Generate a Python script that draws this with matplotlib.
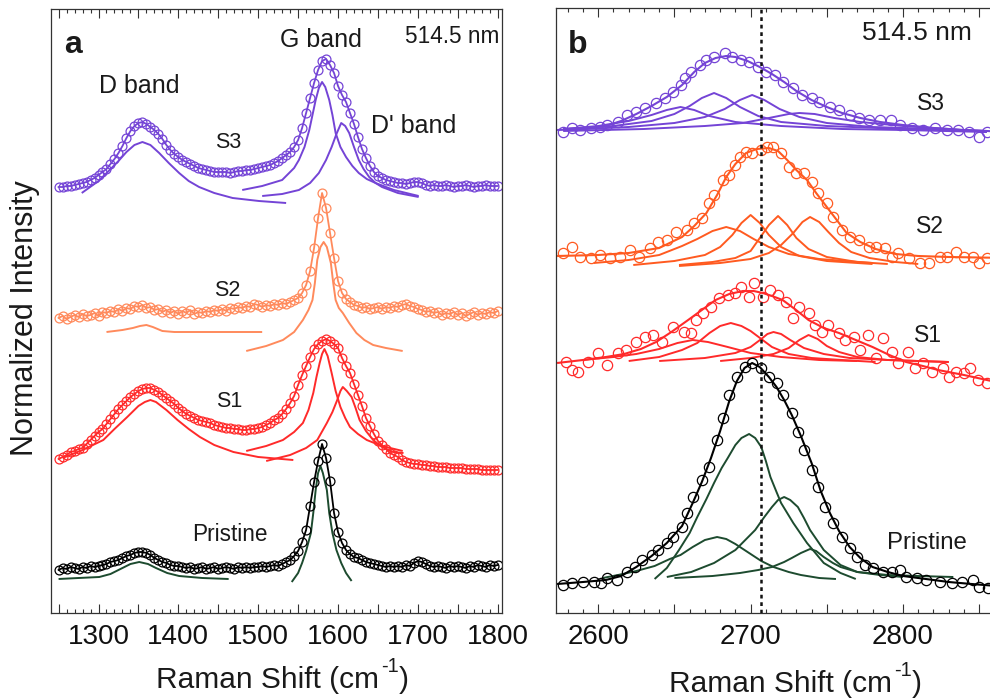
import numpy as np
import matplotlib
matplotlib.use('Agg')
import matplotlib.pyplot as plt
from matplotlib.ticker import MultipleLocator, FuncFormatter

plt.rcParams['font.family'] = ['Liberation Sans', 'DejaVu Sans']
plt.rcParams['mathtext.default'] = 'regular'

# ---------------- DATA: panel a (G/D region) ----------------
# Raman shift grid (cm^-1) for the measured points, 1250..1800 step 5
shift_a = list(range(1250, 1801, 5))

# normalized intensity + vertical offset (arbitrary units)
s3_a = [426, 426, 427, 427, 428, 429, 430, 431, 433, 435,
        438, 441, 444, 449, 454, 460, 467, 475, 482, 487,
        490, 491, 489, 486, 483, 479, 474, 468, 463, 459,
        456, 453, 451, 449, 447, 445, 444, 443, 442, 441,
        441, 441, 441, 440, 441, 442, 442, 443, 443, 444,
        445, 446, 447, 448, 450, 452, 455, 458, 461, 466,
        473, 485, 500, 515, 530, 543, 552, 554, 548, 540,
        527, 518, 511, 500, 489, 476, 464, 455, 447, 441,
        437, 435, 433, 432, 431, 430, 430, 429, 430, 431,
        431, 430, 428, 427, 428, 427, 427, 428, 427, 426,
        427, 427, 428, 427, 426, 427, 427, 428, 427, 427,
        427]
s2_a = [295, 297, 294, 296, 298, 296, 299, 297, 298, 300,
        297, 301, 300, 302, 301, 304, 302, 305, 304, 307,
        306, 308, 305, 306, 303, 304, 301, 303, 300, 302,
        299, 302, 300, 303, 299, 301, 300, 302, 301, 303,
        302, 304, 302, 305, 304, 306, 305, 307, 306, 309,
        308, 306, 308, 307, 309, 308, 310, 309, 311, 313,
        315, 320, 328, 342, 365, 395, 420, 405, 380, 355,
        332, 320, 314, 311, 308, 307, 305, 306, 304, 305,
        306, 304, 306, 305, 307, 306, 308, 309, 307, 306,
        304, 303, 301, 302, 300, 301, 298, 300, 299, 301,
        298, 300, 297, 299, 301, 298, 300, 299, 301, 300,
        302]
s1_a = [154, 156, 158, 161, 162, 164, 165, 169, 173, 177,
        181, 184, 189, 194, 199, 204, 208, 212, 216, 219,
        222, 224, 225, 225, 223, 221, 218, 215, 212, 209,
        205, 202, 199, 197, 195, 193, 192, 191, 190, 188,
        187, 186, 185, 185, 184, 184, 183, 183, 184, 184,
        185, 186, 188, 190, 193, 195, 199, 204, 210, 217,
        228, 238, 247, 256, 264, 269, 272, 274, 272, 269,
        265, 255, 247, 240, 229, 218, 207, 195, 187, 179,
        172, 168, 164, 160, 158, 156, 153, 151, 150, 149,
        149, 148, 148, 147, 147, 146, 146, 146, 145, 145,
        145, 145, 144, 144, 144, 144, 143, 143, 143, 143,
        143]
pr_a = [43, 45, 44, 46, 45, 44, 46, 45, 47, 46,
        47, 48, 49, 51, 52, 53, 55, 57, 58, 60,
        61, 61, 60, 58, 55, 53, 51, 50, 48, 47,
        47, 46, 45, 46, 44, 45, 46, 44, 45, 46,
        44, 45, 46, 45, 44, 46, 45, 46, 45, 46,
        46, 47, 46, 47, 48, 47, 49, 51, 53, 57,
        62, 71, 83, 107, 131, 152, 169, 155, 132, 100,
        81, 70, 63, 59, 56, 55, 53, 51, 50, 49,
        48, 47, 46, 47, 46, 47, 46, 48, 47, 50,
        52, 51, 49, 47, 46, 47, 46, 45, 47, 46,
        47, 46, 45, 47, 46, 48, 47, 46, 48, 47,
        48]

# fitted components, panel a: (shift, intensity)
s3_a_D = [(1279, 420), (1300, 432), (1314, 443), (1325, 452), (1335, 461), (1345, 468), (1355, 471),
          (1365, 468), (1376, 460), (1388, 450), (1401, 440), (1413, 432), (1426, 426), (1445, 420),
          (1468, 415), (1501, 412), (1535, 410)]
s3_a_G = [(1480, 423), (1505, 427), (1530, 433), (1545, 445), (1551, 453), (1558, 466), (1564, 483),
          (1568, 498), (1572, 513), (1576, 525), (1580, 531), (1584, 526), (1589, 513), (1593, 498),
          (1597, 480), (1603, 466), (1610, 456), (1618, 447), (1626, 440), (1636, 434), (1647, 430),
          (1670, 423), (1701, 417)]
s3_a_Dp = [(1505, 417), (1530, 419), (1551, 423), (1565, 430), (1576, 440), (1585, 453), (1592, 466),
           (1598, 479), (1604, 490), (1609, 487), (1614, 480), (1620, 466), (1626, 453), (1632, 444),
           (1639, 436), (1647, 430), (1655, 426), (1675, 420), (1701, 416)]
s2_a_D = [(1310, 281), (1330, 283), (1343, 285), (1352, 287), (1360, 288), (1368, 286), (1380, 282),
          (1395, 281), (1450, 281), (1505, 281)]
s2_a_G = [(1485, 262), (1510, 267), (1531, 273), (1545, 281), (1556, 293), (1563, 303), (1568, 313),
          (1571, 330), (1574, 353), (1578, 366), (1582, 371), (1586, 366), (1591, 350), (1594, 330),
          (1597, 313), (1601, 305), (1606, 300), (1614, 290), (1623, 280), (1633, 273), (1644, 268),
          (1660, 265), (1681, 262)]
s1_a_D = [(1255, 155), (1280, 163), (1306, 173), (1320, 184), (1336, 196), (1350, 207), (1358, 211),
          (1365, 213), (1372, 211), (1385, 203), (1399, 193), (1413, 184), (1427, 176), (1445, 168),
          (1469, 161), (1500, 156), (1544, 153)]
s1_a_G = [(1485, 162), (1510, 167), (1531, 173), (1545, 181), (1556, 190), (1563, 203), (1569, 220),
          (1573, 236), (1577, 250), (1580, 259), (1583, 264), (1587, 257), (1592, 240), (1597, 222),
          (1603, 206), (1609, 195), (1615, 186), (1625, 179), (1636, 173), (1655, 167), (1681, 162)]
s1_a_Dp = [(1510, 152), (1540, 158), (1560, 165), (1574, 173), (1586, 190), (1593, 201), (1599, 213),
           (1603, 222), (1606, 226), (1611, 222), (1617, 216), (1622, 205), (1627, 193), (1635, 182),
           (1644, 173), (1655, 166), (1669, 161), (1682, 160)]
pr_a_D = [(1250, 34), (1275, 35), (1301, 36), (1315, 39), (1330, 45), (1340, 49), (1351, 51), (1362, 49),
          (1372, 45), (1386, 40), (1401, 37), (1430, 35), (1463, 34)]
pr_a_G = [(1542, 31), (1550, 40), (1555, 50), (1560, 62), (1566, 80), (1569, 100), (1572, 123), (1575, 140),
          (1578, 147), (1581, 140), (1586, 123), (1589, 100), (1593, 80), (1598, 63), (1604, 50),
          (1610, 40), (1617, 32)]

# ---------------- DATA: panel b (2D region) ----------------
pr_b_x = [2577, 2583, 2590, 2597, 2602, 2606, 2612, 2619, 2624, 2629, 2635, 2639, 2645, 2649, 2655,
          2658, 2662, 2668, 2673, 2678, 2682, 2686, 2691, 2696, 2701, 2707, 2712, 2717, 2721, 2727,
          2731, 2735, 2740, 2744, 2749, 2754, 2760, 2765, 2770, 2775, 2780, 2787, 2793, 2798, 2802,
          2809, 2815, 2824, 2832, 2839, 2846, 2850, 2856]
pr_b_y = [28, 30, 31, 31, 30, 35, 33, 41, 46, 53, 58, 63, 70, 76, 86,
          100, 116, 133, 146, 173, 195, 218, 236, 246, 250, 245, 236, 230, 218, 200,
          181, 163, 143, 126, 106, 90, 76, 65, 56, 48, 45, 41, 41, 43, 36,
          35, 33, 31, 30, 31, 33, 26, 25]
s1_b_x = [2579, 2583, 2587, 2593, 2600, 2606, 2613, 2618, 2625, 2631, 2636, 2642, 2649, 2656, 2661,
          2664, 2669, 2674, 2679, 2685, 2690, 2694, 2699, 2702, 2708, 2713, 2718, 2723, 2728, 2732,
          2738, 2742, 2747, 2751, 2758, 2762, 2768, 2772, 2777, 2782, 2787, 2793, 2797, 2803, 2808,
          2813, 2819, 2826, 2830, 2835, 2840, 2844, 2849, 2855]
s1_b_y = [251, 243, 241, 251, 260, 248, 260, 263, 271, 276, 278, 271, 286, 281, 280,
          293, 300, 306, 315, 318, 320, 326, 316, 330, 316, 323, 318, 311, 295, 306,
          300, 288, 281, 288, 280, 273, 276, 263, 278, 255, 275, 261, 250, 261, 245,
          250, 241, 245, 236, 241, 240, 245, 233, 230]
s2_b_x = [2577, 2583, 2588, 2595, 2601, 2608, 2614, 2621, 2627, 2634, 2639, 2645, 2651, 2658, 2663,
          2668, 2673, 2676, 2682, 2686, 2690, 2693, 2697, 2701, 2707, 2711, 2715, 2720, 2725, 2730,
          2735, 2740, 2744, 2750, 2754, 2760, 2765, 2771, 2778, 2782, 2788, 2793, 2797, 2804, 2811,
          2817, 2824, 2829, 2835, 2840, 2846, 2850, 2855]
s2_b_y = [360, 366, 356, 355, 358, 355, 356, 363, 356, 365, 371, 373, 381, 383, 390,
          395, 410, 418, 433, 438, 448, 456, 461, 460, 463, 466, 466, 460, 446, 440,
          440, 431, 420, 410, 396, 383, 376, 373, 366, 366, 365, 356, 360, 355, 350,
          350, 356, 356, 361, 356, 356, 350, 355]
s3_b_x = [2577, 2583, 2588, 2595, 2601, 2606, 2613, 2619, 2625, 2631, 2638, 2644, 2649, 2654, 2657,
          2661, 2667, 2671, 2676, 2683, 2688, 2694, 2699, 2705, 2710, 2716, 2721, 2728, 2734, 2740,
          2745, 2752, 2758, 2765, 2771, 2778, 2785, 2792, 2798, 2806, 2813, 2821, 2829, 2836, 2843,
          2850, 2855]
s3_b_y = [481, 485, 483, 485, 486, 488, 491, 498, 501, 505, 510, 515, 521, 528, 535,
          541, 548, 553, 556, 560, 556, 553, 551, 546, 541, 538, 531, 525, 518, 515,
          511, 506, 503, 498, 495, 493, 493, 493, 488, 485, 483, 485, 483, 483, 481,
          476, 481]

# total fits, panel b
pr_b_fit = [(2573, 29), (2590, 31), (2605, 33), (2615, 37), (2625, 46), (2635, 57), (2645, 70), (2655, 87),
            (2662, 110), (2668, 131), (2674, 155), (2680, 182), (2686, 212), (2691, 232), (2696, 245),
            (2701, 250), (2706, 246), (2712, 236), (2717, 226), (2722, 213), (2727, 198), (2733, 177),
            (2740, 150), (2746, 122), (2752, 100), (2758, 82), (2765, 66), (2772, 55), (2780, 46),
            (2790, 41), (2800, 37), (2815, 34), (2830, 31), (2845, 29), (2870, 26)]
s1_b_fit = [(2573, 250), (2590, 253), (2605, 256), (2617, 259), (2628, 264), (2638, 271), (2648, 281),
            (2659, 293), (2668, 303), (2677, 313), (2686, 319), (2695, 322), (2702, 322), (2708, 320),
            (2714, 317), (2721, 313), (2729, 304), (2738, 293), (2748, 285), (2758, 280), (2769, 273),
            (2780, 266), (2791, 258), (2802, 251), (2813, 247), (2823, 243), (2840, 238), (2870, 228)]
s2_b_fit = [(2573, 357), (2600, 358), (2620, 360), (2640, 365), (2655, 376), (2663, 387), (2671, 400),
            (2678, 418), (2684, 436), (2690, 449), (2697, 460), (2704, 464), (2712, 465), (2718, 462),
            (2724, 453), (2730, 443), (2737, 433), (2743, 420), (2750, 406), (2757, 392), (2763, 380),
            (2772, 371), (2782, 364), (2795, 359), (2810, 357), (2830, 356), (2870, 355)]
s3_b_fit = [(2573, 483), (2590, 484), (2605, 487), (2615, 492), (2625, 499), (2635, 507), (2645, 516),
            (2655, 528), (2663, 541), (2670, 550), (2677, 555), (2684, 557), (2690, 556), (2698, 552),
            (2706, 546), (2714, 539), (2722, 531), (2730, 522), (2740, 513), (2750, 506), (2760, 500),
            (2772, 495), (2785, 491), (2800, 488), (2820, 485), (2840, 483), (2870, 481)]

# fitted components, panel b
pr_b_c1 = [(2603, 35), (2613, 38), (2625, 42), (2637, 47), (2647, 54), (2654, 58), (2662, 66), (2670, 73),
           (2678, 76), (2684, 74), (2690, 69), (2699, 60), (2707, 52), (2715, 46), (2725, 41), (2733, 38),
           (2745, 35), (2756, 34)]
pr_b_c2 = [(2637, 34), (2645, 45), (2653, 63), (2660, 80), (2665, 96), (2671, 114), (2676, 130), (2681, 145),
           (2685, 155), (2690, 168), (2694, 175), (2699, 179), (2703, 175), (2707, 166), (2710, 152),
           (2713, 136), (2717, 121), (2720, 110), (2728, 90), (2737, 70), (2748, 50), (2759, 40), (2769, 34)]
pr_b_c3 = [(2645, 36), (2661, 41), (2676, 50), (2690, 63), (2703, 83), (2709, 96), (2714, 106), (2718, 113),
           (2722, 116), (2726, 113), (2731, 106), (2735, 95), (2739, 83), (2748, 63), (2759, 48), (2770, 41),
           (2790, 38), (2810, 37), (2833, 36)]
pr_b_c4 = [(2650, 35), (2675, 37), (2693, 40), (2705, 43), (2714, 46), (2722, 51), (2727, 55), (2733, 60),
           (2739, 64), (2743, 62), (2748, 56), (2754, 50), (2759, 46), (2770, 41), (2785, 38), (2800, 36)]
s1_b_c0 = [(2590, 253), (2610, 256), (2625, 259), (2640, 264), (2652, 270), (2662, 273), (2672, 271),
           (2685, 266), (2700, 260), (2720, 256), (2745, 253), (2770, 252)]
s1_b_c1 = [(2620, 252), (2640, 256), (2655, 263), (2665, 270), (2673, 280), (2680, 287), (2687, 290),
           (2694, 287), (2700, 282), (2707, 274), (2714, 266), (2725, 259), (2740, 255), (2760, 253),
           (2782, 251)]
s1_b_c2 = [(2640, 252), (2670, 255), (2690, 260), (2700, 266), (2707, 274), (2711, 279), (2715, 281),
           (2720, 279), (2726, 273), (2735, 265), (2748, 259), (2765, 255), (2790, 253), (2830, 251)]
s1_b_c3 = [(2680, 252), (2700, 255), (2715, 259), (2725, 265), (2732, 273), (2738, 278), (2744, 274),
           (2750, 267), (2758, 261), (2770, 256), (2790, 253), (2830, 251)]
s2_b_c1 = [(2597, 350), (2620, 353), (2640, 358), (2655, 367), (2665, 374), (2675, 382), (2684, 386),
           (2693, 382), (2702, 374), (2712, 366), (2725, 359), (2745, 354), (2780, 350)]
s2_b_c2 = [(2623, 348), (2650, 352), (2670, 358), (2680, 366), (2688, 378), (2694, 390), (2700, 398),
           (2706, 390), (2712, 378), (2720, 366), (2732, 357), (2750, 352), (2780, 349)]
s2_b_c3 = [(2653, 348), (2675, 351), (2690, 355), (2700, 362), (2706, 375), (2712, 388), (2718, 397),
           (2724, 388), (2730, 375), (2738, 364), (2750, 356), (2770, 351), (2790, 349)]
s2_b_c4 = [(2653, 347), (2680, 350), (2700, 354), (2712, 360), (2720, 368), (2728, 380), (2734, 391),
           (2739, 396), (2745, 391), (2751, 381), (2758, 370), (2766, 361), (2778, 355), (2795, 351),
           (2810, 349)]
s3_b_c1 = [(2577, 484), (2600, 487), (2620, 492), (2635, 498), (2645, 503), (2654, 506), (2663, 503),
           (2673, 497), (2690, 491), (2720, 487), (2760, 484), (2800, 483), (2855, 481)]
s3_b_c2 = [(2577, 484), (2610, 487), (2635, 492), (2650, 499), (2660, 507), (2668, 515), (2676, 520),
           (2684, 515), (2693, 506), (2705, 497), (2720, 491), (2750, 487), (2800, 484), (2855, 482)]
s3_b_c3 = [(2577, 483), (2620, 486), (2650, 490), (2670, 496), (2683, 504), (2693, 513), (2701, 518),
           (2709, 513), (2719, 504), (2732, 496), (2750, 490), (2780, 486), (2820, 484), (2855, 482)]
s3_b_c4 = [(2577, 482), (2630, 484), (2670, 487), (2695, 490), (2712, 495), (2725, 499), (2732, 500),
           (2742, 499), (2755, 495), (2772, 491), (2800, 487), (2830, 484), (2855, 481)]

ref_line_b = 2707  # dotted reference line (cm^-1)

# ---------------- colours ----------------
C_S3 = '#7444d6'
C_S2a = '#ff8a5c'
C_S2b = '#ff5a20'
C_S1 = '#ff2a2a'
C_PR = '#000000'
C_GR = '#1d4b2f'

# ---------------- figure ----------------
W, H = 990, 700
fig = plt.figure(figsize=(W / 100, H / 100), dpi=100)


def fx(px):
    return px / W


def fy(py):
    return 1 - py / H


axA = fig.add_axes([fx(51), fy(613), fx(501.7) - fx(51), fy(9) - fy(613)])
axB = fig.add_axes([fx(556), fy(613), fx(1009.7) - fx(556), fy(8) - fy(613)])

axA.set_xlim(1240.5, 1805)
axA.set_ylim(0, 604)
axB.set_xlim(2572.3, 2870)
axB.set_ylim(0, 605)

fmt = FuncFormatter(lambda v, p: f'{int(round(v))}' if int(round(v)) % 100 == 0 else '')
for ax in (axA, axB):
    ax.set_yticks([])
    ax.xaxis.set_major_locator(MultipleLocator(50))
    ax.xaxis.set_minor_locator(MultipleLocator(10))
    ax.xaxis.set_major_formatter(fmt)
    ax.tick_params(axis='x', which='both', direction='in', top=True, bottom=True,
                   color='#333333', width=0.8, labelsize=20, pad=8, labelcolor='#111111')
    ax.tick_params(axis='x', which='major', length=6.5)
    ax.tick_params(axis='x', which='minor', length=3.2)
    for s in ax.spines.values():
        s.set_linewidth(0.9)
        s.set_color('#333333')


def line(ax, pts, c, lw=1.4):
    xs = [p[0] for p in pts]
    ys = [p[1] for p in pts]
    ax.plot(xs, ys, color=c, lw=lw, solid_capstyle='butt')


def data(ax, xs, ys, c, ms, connect=False):
    ax.plot(xs, ys, linestyle='-' if connect else 'none', color=c, lw=1.3, marker='o',
            mfc='none', mec=c, ms=ms, mew=0.9)


# panel a
for comp, c in [(s3_a_D, C_S3), (s3_a_G, C_S3), (s3_a_Dp, C_S3),
                (s2_a_D, C_S2a), (s2_a_G, C_S2a),
                (s1_a_D, C_S1), (s1_a_G, C_S1), (s1_a_Dp, C_S1),
                (pr_a_D, C_GR), (pr_a_G, C_GR)]:
    line(axA, comp, c)
for ys, c in [(s3_a, C_S3), (s2_a, C_S2a), (s1_a, C_S1), (pr_a, C_PR)]:
    data(axA, shift_a, ys, c, 6.4, connect=True)

# panel b
for comp, c in [(s3_b_c1, C_S3), (s3_b_c2, C_S3), (s3_b_c3, C_S3), (s3_b_c4, C_S3),
                (s2_b_c1, C_S2b), (s2_b_c2, C_S2b), (s2_b_c3, C_S2b), (s2_b_c4, C_S2b),
                (s1_b_c0, C_S1), (s1_b_c1, C_S1), (s1_b_c2, C_S1), (s1_b_c3, C_S1),
                (pr_b_c1, C_GR), (pr_b_c2, C_GR), (pr_b_c3, C_GR), (pr_b_c4, C_GR)]:
    line(axB, comp, c)
for fit, c in [(s3_b_fit, C_S3), (s2_b_fit, C_S2b), (s1_b_fit, C_S1), (pr_b_fit, C_PR)]:
    line(axB, fit, c, lw=1.5)
for xs, ys, c in [(s3_b_x, s3_b_y, C_S3), (s2_b_x, s2_b_y, C_S2b),
                  (s1_b_x, s1_b_y, C_S1), (pr_b_x, pr_b_y, C_PR)]:
    data(axB, xs, ys, c, 7.4)
axB.axvline(ref_line_b, color='#111111', lw=1.8, linestyle=(0, (1.5, 1.5)), zorder=5)

# ---------------- text ----------------
TXT = '#1a1a1a'


def t(px, py, s, size, weight='normal', ha='center'):
    fig.text(fx(px), fy(py), s, size=size, weight=weight, ha=ha, va='baseline', color=TXT)


t(73, 53, 'a', 23, 'bold')
t(321, 47, 'G band', 18)
t(452, 43, '514.5 nm', 16.3)
t(139, 93, 'D band', 18)
t(414, 133, "D' band", 18)
t(228, 148, 'S3', 15.5)
t(227, 296, 'S2', 15.5)
t(229, 407, 'S1', 15.5)
t(230, 541, 'Pristine', 16.3)

t(578, 53, 'b', 23, 'bold')
t(917, 40, '514.5 nm', 19)
t(931, 110, 'S3', 16.5)
t(930, 233, 'S2', 16.5)
t(928, 342, 'S1', 16.5)
t(927, 549, 'Pristine', 17.3)


def xlabel(x_end, base, sup_top):
    # "Raman Shift (cm" + raised "-1" + ")"
    t(x_end, base, 'Raman Shift (cm', 21.5, ha='right')
    t(x_end + 2, sup_top, '-1', 14.5, ha='left')
    t(x_end + 20, base, ')', 21.5, ha='left')


xlabel(379, 688, 672)
xlabel(892, 692, 676)
fig.text(fx(25), fy(318), 'Normalized Intensity', rotation=90, ha='center', va='center',
         size=22, color=TXT)

fig.savefig('out.png', dpi=100)
